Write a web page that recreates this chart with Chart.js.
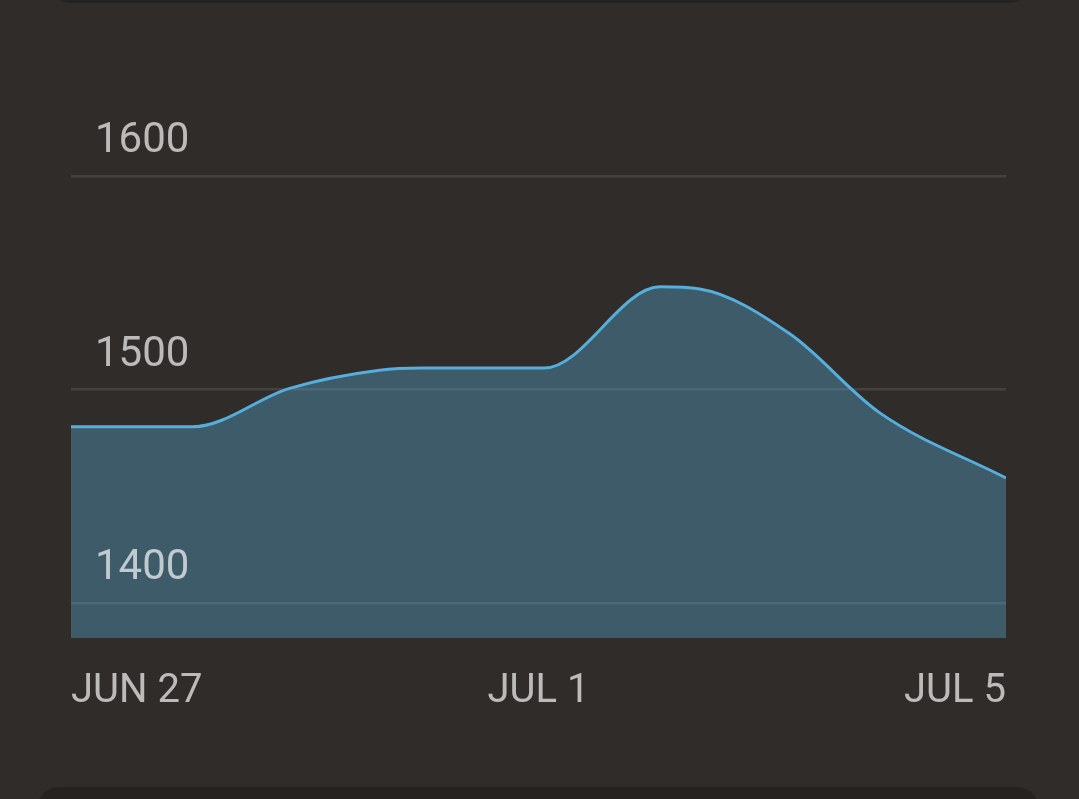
<!DOCTYPE html>
<html>
<head>
<meta charset="utf-8">
<script src="https://cdn.jsdelivr.net/npm/chart.js@4.4.0/dist/chart.umd.min.js"></script>
<style>
  html, body { margin: 0; padding: 0; background: #302c29; overflow: hidden; }
  #wrap { position: relative; width: 1079px; height: 799px; }
  .card { position: absolute; background: #252321; border-radius: 22px; }
  #cardTop { left: 48px; right: 48px; top: -60px; height: 63px; }
  #cardBottom { left: 37px; right: 40px; top: 787px; height: 80px; }
  canvas { position: absolute; left: 0; top: 0; }
</style>
</head>
<body>
<div id="wrap">
  <div class="card" id="cardTop"></div>
  <div class="card" id="cardBottom"></div>
  <canvas id="myChart" width="1079" height="799"></canvas>
</div>
<script>
// day offsets from JUN 27 and the values at them
const dayOffsets = [0, 1.04, 1.87, 2.64, 3.0, 4.05, 5.04, 5.38, 6.15, 6.92, 8]
const values = [1482.5, 1482.5, 1500.5, 1509, 1510, 1510, 1548, 1547, 1526, 1489, 1458.5]

const tickDays = [0, 4, 8]
const tickLabels = ['JUN 27', 'JUL 1', 'JUL 5']
const yTicks = [1400, 1500, 1600]

const lineColor = '#55aedc'
const textColor = 'rgba(255, 255, 255, 0.68)'

const points = dayOffsets.map((d, i) => ({ x: d, y: values[i] }))

const ctx = document.getElementById('myChart').getContext('2d')

new Chart(ctx, {
    type: 'line',
    data: {
        datasets: [{
            data: points,
            borderColor: lineColor,
            borderWidth: 3,
            backgroundColor: 'rgba(85, 174, 220, 0.36)',
            fill: 'start',
            pointRadius: 0,
            cubicInterpolationMode: 'monotone'
        }]
    },
    options: {
        responsive: false,
        animation: false,
        layout: { padding: { left: 71, right: 73, top: 69, bottom: 61 } },
        plugins: { legend: { display: false }, tooltip: { enabled: false } },
        scales: {
            x: {
                type: 'linear',
                min: 0,
                max: 8,
                afterBuildTicks: scale => { scale.ticks = tickDays.map(v => ({ value: v })) },
                afterFit: scale => { scale.height = 100 },
                grid: { display: false, drawTicks: false },
                border: { display: false },
                ticks: {
                    color: textColor,
                    font: { family: 'Roboto', size: 40 },
                    padding: 30,
                    align: 'inner',
                    maxRotation: 0,
                    callback: v => tickLabels[tickDays.indexOf(v)]
                }
            },
            y: {
                min: 1383.6,
                max: 1650,
                afterBuildTicks: scale => { scale.ticks = yTicks.map(v => ({ value: v })) },
                afterFit: scale => { scale.width = 0 },
                grid: { color: 'rgba(255, 255, 255, 0.1)', lineWidth: 2.5, drawTicks: false },
                border: { display: false },
                ticks: {
                    z: 1,
                    mirror: true,
                    color: textColor,
                    font: { family: 'Roboto', size: 42 },
                    padding: 24,
                    labelOffset: -34,
                    callback: v => String(v)
                }
            }
        }
    }
})
</script>
</body>
</html>
